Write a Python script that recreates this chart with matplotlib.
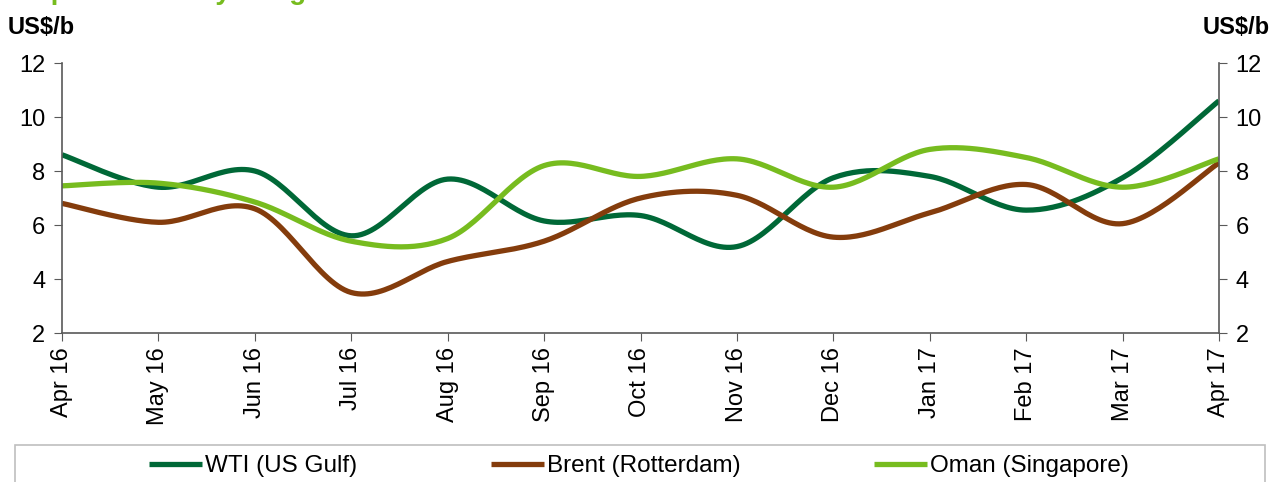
import numpy as np
import matplotlib
matplotlib.use("Agg")
import matplotlib.pyplot as plt
from matplotlib.patches import Rectangle

plt.rcParams['font.family'] = ['Liberation Sans', 'DejaVu Sans']

months = ["Apr 16", "May 16", "Jun 16", "Jul 16", "Aug 16", "Sep 16", "Oct 16",
          "Nov 16", "Dec 16", "Jan 17", "Feb 17", "Mar 17", "Apr 17"]
wti = [8.6, 7.4, 8.0, 5.6, 7.7, 6.15, 6.35, 5.2, 7.75, 7.8, 6.55, 7.75, 10.6]
brent = [6.8, 6.1, 6.6, 3.5, 4.65, 5.4, 7.0, 7.1, 5.55, 6.45, 7.5, 6.05, 8.3]
oman = [7.45, 7.55, 6.85, 5.4, 5.5, 8.2, 7.8, 8.45, 7.4, 8.8, 8.5, 7.4, 8.45]

series = [("WTI (US Gulf)", wti, "#006837"),
          ("Brent (Rotterdam)", brent, "#843c0c"),
          ("Oman (Singapore)", oman, "#77bc1f")]


def smooth(x, y, n=30):
    # excel-style smoothed line: bezier segments with catmull-rom control points
    x = np.asarray(x, float)
    y = np.asarray(y, float)
    px = np.concatenate([[x[0]], x, [x[-1]]])
    py = np.concatenate([[y[0]], y, [y[-1]]])
    xs, ys = [], []
    t = np.linspace(0, 1, n)
    for i in range(len(x) - 1):
        p0 = np.array([px[i + 1], py[i + 1]])
        p3 = np.array([px[i + 2], py[i + 2]])
        c1 = p0 + (np.array([px[i + 2], py[i + 2]]) - np.array([px[i], py[i]])) / 6
        c2 = p3 - (np.array([px[i + 3], py[i + 3]]) - np.array([px[i + 1], py[i + 1]])) / 6
        b = ((1 - t) ** 3)[:, None] * p0 + (3 * (1 - t) ** 2 * t)[:, None] * c1 \
            + (3 * (1 - t) * t ** 2)[:, None] * c2 + (t ** 3)[:, None] * p3
        xs.append(b[:, 0])
        ys.append(b[:, 1])
    return np.concatenate(xs), np.concatenate(ys)


fig = plt.figure(figsize=(12.74, 4.82), dpi=100)
ax = fig.add_axes([62 / 1274, 1 - 333 / 482, (1219 - 62) / 1274, 270 / 482])

xpos = np.arange(len(months))
handles = []
for name, vals, col in series:
    sx, sy = smooth(xpos, vals)
    h, = ax.plot(sx, sy, color=col, lw=3.8, solid_capstyle='butt', label=name)
    handles.append(h)

ax.set_xlim(0, len(months) - 1)
ax.set_ylim(2, 12)
ax.set_yticks(range(2, 13, 2))
ax.set_xticks(xpos)
ax.set_xticklabels(months, rotation=90)

spine_col = "#595959"
for s in ["left", "bottom", "right"]:
    ax.spines[s].set_color(spine_col)
    ax.spines[s].set_linewidth(1.2)
ax.spines["top"].set_visible(False)
ax.tick_params(axis='y', which='both', direction='out', length=6, color=spine_col,
               labelsize=17, left=True, right=True, labelleft=True, labelright=True, pad=6)
ax.tick_params(axis='x', direction='out', length=6, color=spine_col, labelsize=17, pad=4)

fig.text(8 / 1274, 1 - 27 / 482, "US$/b", fontsize=17, fontweight='bold', va='center', ha='left')
fig.text(1270 / 1274, 1 - 27 / 482, "US$/b", fontsize=17, fontweight='bold', va='center', ha='right')
# title sits mostly above the top edge, as in the original crop
fig.text(0.002, 1 + 1 / 482, "Graph 1: Monthly margins", fontsize=20, fontweight='bold',
         color="#77bc1f", va='baseline', ha='left')

fig.patches.append(Rectangle((15 / 1274, -0.05), 1250 / 1274, 0.05 + 37 / 482,
                             transform=fig.transFigure, fill=False,
                             edgecolor="#bfbfbf", lw=1.2))
fig.legend(handles=handles, loc='center left', bbox_to_anchor=(149 / 1274, 1 - 466 / 482),
           ncol=3, frameon=False, fontsize=17.5, handlelength=2.2, handletextpad=0.1,
           columnspacing=5.5, borderpad=0, borderaxespad=0)

fig.savefig("out.png", dpi=100)
